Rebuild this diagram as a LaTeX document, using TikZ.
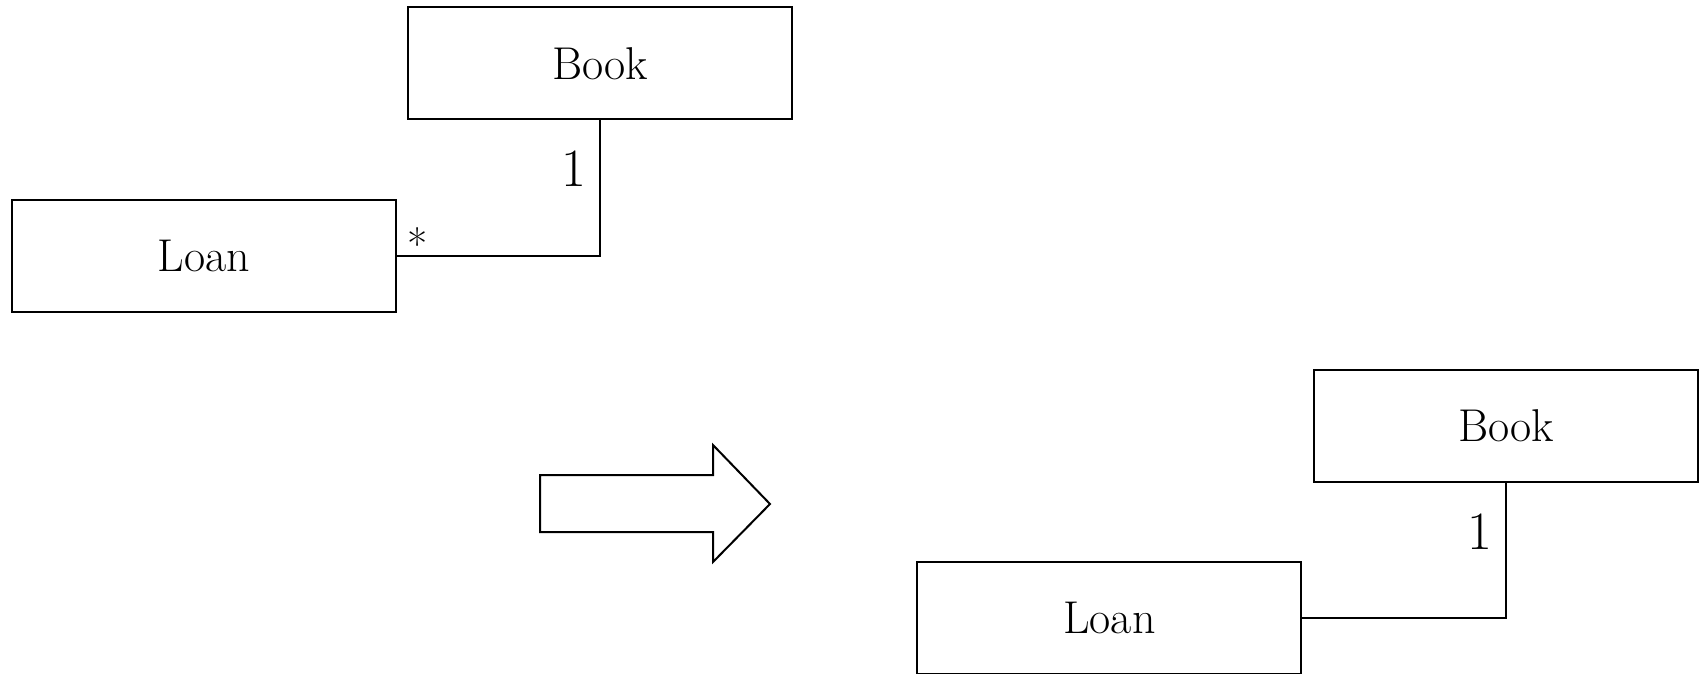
\documentclass[tikz,border=0pt]{standalone}
\begin{document}
\begin{tikzpicture}[x=0.5pt,y=-0.5pt,line width=1pt,
  classbox/.style={draw,rectangle,minimum width=192pt,minimum height=56pt,
    inner sep=0pt,font=\fontsize{23}{27}\selectfont},
  mult/.style={inner sep=0pt,font=\fontsize{27}{32}\selectfont},
  star/.style={inner sep=0pt,font=\fontsize{22}{26}\selectfont}]
\useasboundingbox (0,0) rectangle (1699,674);

% before: Loan * --- 1 Book
\node[classbox] (book1) at (600.3,63.4) {\raisebox{-1.1pt}{Book}};
\node[classbox] (loan1) at (203.7,256.2) {\raisebox{-1.1pt}{Loan}};
\draw (loan1.east) -| (book1.south);
\node[mult] (one1) at (574,169) {1};
\node[star] (many1) at (418,244) {*};

% refactoring arrow
\draw (540,475) -- (713,475) -- (713,445) -- (770,504) -- (713,562)
  -- (713,532) -- (540,532) -- cycle;

% after: Loan --- 1 Book
\node[classbox] (book2) at (1506,426) {\raisebox{-1.1pt}{Book}};
\node[classbox] (loan2) at (1109.4,617.5) {\raisebox{-1.1pt}{Loan}};
\draw (loan2.east) -| (book2.south);
\node[mult] (one2) at (1480,532) {1};
\end{tikzpicture}
\end{document}
